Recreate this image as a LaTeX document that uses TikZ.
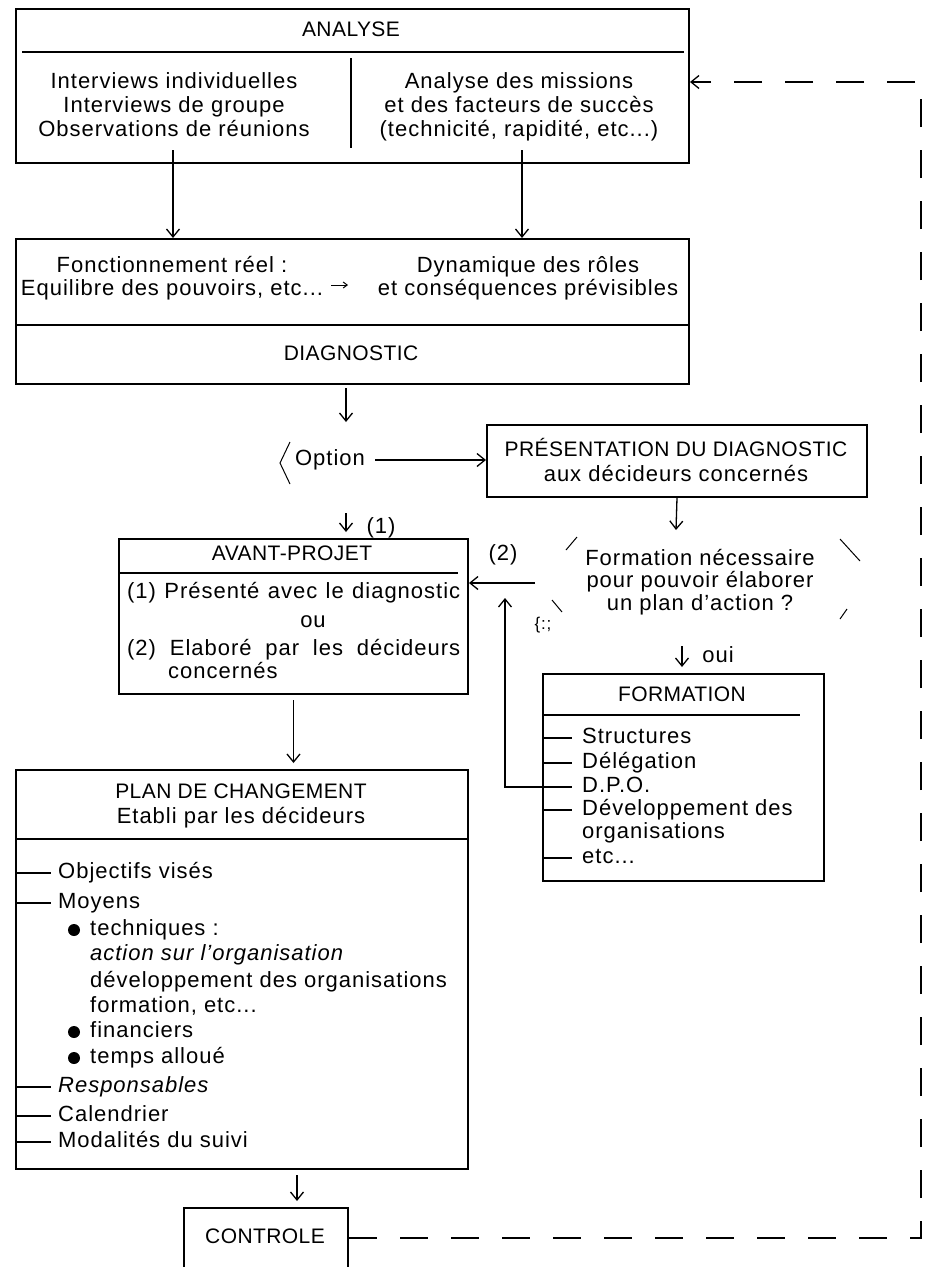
\documentclass[tikz,border=0pt]{standalone}
\usepackage{fontspec}
\setmainfont{Liberation Sans}[LetterSpace=4.5]
\newfontfamily\capsfont{Liberation Sans}[LetterSpace=2.0]
\usetikzlibrary{arrows.meta}

\tikzset{
  txt/.style={inner sep=0pt, font=\fontsize{22}{26}\selectfont, text height=15pt, text depth=4.5pt},
  caps/.style={inner sep=0pt, font=\capsfont\fontsize{21}{25}\selectfont, text height=15pt, text depth=4.5pt},
  panel/.style={draw, line width=2pt, inner sep=0pt},
  sepline/.style={line width=1.2pt},
  flow/.style={line width=1.3pt, -{Straight Barb[length=8pt,width=13pt,line width=1.3pt]}},
  fbline/.style={line width=1.5pt, dash pattern=on 28pt off 23pt},
  cornermark/.style={line width=1pt},
  dot/.style={fill, circle, inner sep=0pt, minimum size=12pt}
}

\begin{document}
\begin{tikzpicture}[x=1pt,y=-1pt]
\useasboundingbox (0,0) rectangle (928,1267);

% ---------- ANALYSE ----------
\node[panel, minimum width=673pt, minimum height=154pt, anchor=north west] (ana) at (15,8) {};
\node[caps] (tana) at (351,31) {ANALYSE};
\draw[sepline] (22,52) -- (684,52);
\draw[sepline] (351,58) -- (351,148);
\node[txt] (al1) at (174,83) {Interviews individuelles};
\node[txt] (al2) at (174,107) {Interviews de groupe};
\node[txt] (al3) at (174,131) {Observations de réunions};
\node[txt] (ar1) at (519,83) {Analyse des missions};
\node[txt] (ar2) at (519,107) {et des facteurs de succès};
\node[txt] (ar3) at (519,131) {(technicité, rapidité, etc...)};

% ---------- DIAGNOSTIC ----------
\node[panel, minimum width=673pt, minimum height=145pt, anchor=north west] (diag) at (15,238) {};
\node[txt] (dl1) at (172,267) {Fonctionnement réel :};
\node[txt] (dl2) at (172,290) {Equilibre des pouvoirs, etc...};
\node[txt] (dr1) at (528,267) {Dynamique des rôles};
\node[txt] (dr2) at (528,290) {et conséquences prévisibles};
\coordinate (sa) at (331,285);
\draw[line width=1pt, -{Straight Barb[length=4pt,width=6pt]}] (sa) -- ++(17,0);
\draw[sepline] (15,325) -- (688,325);
\node[caps] (tdiag) at (351,355) {DIAGNOSTIC};

\coordinate (colL) at (173,150);
\coordinate (colR) at (522,150);
\draw[flow] (colL) -- (colL |- diag.north);
\draw[flow] (colR) -- (colR |- diag.north);

% ---------- Option ----------
\coordinate (o1) at (346,422);
\draw[flow] ([yshift=-3pt]diag.south -| o1) -- (o1);
\draw[cornermark] (290,442) -- (280,463) -- (290,484);
\node[txt] (opt) at (330,460) {Option};

\node[panel, minimum width=380pt, minimum height=72pt, anchor=north west] (pres) at (486,424) {};
\node[caps] (p1) at (676,451) {PRÉSENTATION DU DIAGNOSTIC};
\node[txt] (p2) at (676,476) {aux décideurs concernés};
\draw[flow] ([xshift=10pt]opt.east) -- (pres.west |- opt.east);

% ---------- AVANT-PROJET ----------
\node[panel, minimum width=349pt, minimum height=155pt, anchor=north west] (avant) at (118,538) {};
\coordinate (o2) at (346,513);
\draw[flow] (o2) -- ([yshift=6pt]avant.north -| o2);
\node[txt] (lab1) at (381,528) {(1)};
\node[caps] (tav) at (292,555) {AVANT-PROJET};
\draw[sepline] (118,573) -- (458,573);
\node[txt, anchor=west] (av1) at (127,593) {\makebox[333pt][s]{(1) Présenté avec le diagnostic}};
\node[txt] (av2) at (313,622) {ou};
\node[txt, anchor=west] (av3) at (127,650) {\makebox[333pt][s]{(2) Elaboré par les décideurs}};
\node[txt, anchor=west] (av4) at (168,673) {concernés};

% ---------- decision ----------
\coordinate (d0) at (676,530);
\draw[flow] (pres.south) -- (d0);
\node[txt] (q1) at (700,560) {Formation nécessaire};
\node[txt] (q2) at (700,582) {pour pouvoir élaborer};
\node[txt] (q3) at (700,605) {un plan d'action ?};
\draw[cornermark] (577,537) -- (566,550);
\draw[cornermark] (840,539) -- (860,561);
\draw[cornermark] (552,600) -- (562,612);
\draw[cornermark] (847,609) -- (840,619);
\node[inner sep=0pt, font=\fontsize{17}{17}\selectfont] (stray) at (543,625) {\{:;};

\coordinate (decL) at (535,583);
\draw[flow] (decL) -- (avant.east |- decL);
\node[txt] (lab2) at (503,555) {(2)};

% ---------- FORMATION ----------
\node[panel, minimum width=281pt, minimum height=207pt, anchor=north west] (form) at (542,673) {};
\coordinate (ouiA) at (682,646);
\draw[flow] (ouiA) -- ([yshift=6pt]form.north -| ouiA);
\node[txt] (oui) at (718,657) {oui};
\node[caps] (tform) at (682,696) {FORMATION};
\draw[sepline] (542,715) -- (800,715);
\node[txt, anchor=west] (f1) at (582,738) {Structures};
\node[txt, anchor=west] (f2) at (582,763) {Délégation};
\node[txt, anchor=west] (f3) at (582,787) {D.P.O.};
\node[txt, anchor=west] (f4) at (582,810) {Développement des};
\node[txt, anchor=west] (f5) at (582,833) {organisations};
\node[txt, anchor=west] (f6) at (582,858) {etc...};
\foreach \f in {f1,f2,f3,f4,f6}
  \draw[sepline] (form.west |- \f.west) -- ++(30,0);

\coordinate (upT) at (505,598);
\draw[flow] (form.west |- f3.west) -| (upT);

% ---------- PLAN DE CHANGEMENT ----------
\node[panel, minimum width=452pt, minimum height=399pt, anchor=north west] (plan) at (15,769) {};
\draw[flow] ([yshift=-5pt]avant.south) -- ([yshift=6pt]plan.north -| avant.south);
\node[caps] (pl1) at (241,793) {PLAN DE CHANGEMENT};
\node[txt] (pl2) at (241,818) {Etabli par les décideurs};
\draw[sepline] (15,839) -- (467,839);

\node[txt, anchor=west] (m1) at (58,873) {Objectifs visés};
\node[txt, anchor=west] (m2) at (58,903) {Moyens};
\node[txt, anchor=west] (m3) at (90,930) {techniques :};
\node[txt, anchor=west] (m4) at (90,955) {\itshape action sur l'organisation};
\node[txt, anchor=west] (m5) at (90,982) {développement des organisations};
\node[txt, anchor=west] (m6) at (90,1007) {formation, etc...};
\node[txt, anchor=west] (m7) at (90,1032) {financiers};
\node[txt, anchor=west] (m8) at (90,1058) {temps alloué};
\node[txt, anchor=west] (m9) at (58,1087) {\itshape Responsables};
\node[txt, anchor=west] (m10) at (58,1116) {Calendrier};
\node[txt, anchor=west] (m11) at (58,1142) {Modalités du suivi};
\foreach \m in {m1,m2,m9,m10,m11}
  \draw[sepline] (plan.west |- \m.west) -- ++(36,0);
\foreach \m in {m3,m7,m8}
  \node[dot] at ([xshift=-16pt]\m.west) {};

% ---------- CONTROLE ----------
\node[panel, minimum width=164pt, minimum height=60pt, anchor=north west] (ctrl) at (183,1207) {};
\node[caps] (tctrl) at (265,1238) {CONTROLE};
\coordinate (c0) at (297,1172);
\draw[flow] ([yshift=-5pt]plan.south -| c0) -- ([yshift=6pt]ctrl.north -| c0);

% ---------- feedback loop ----------
\coordinate (fbB) at (921,1240);
\coordinate (fbT) at (921,82);
\draw[fbline, -{Straight Barb[length=8pt,width=13pt,line width=1.3pt]}]
  (ctrl.east) -- (ctrl.east -| fbB) -- (fbT) -- (ana.east |- fbT);
\end{tikzpicture}
\end{document}
